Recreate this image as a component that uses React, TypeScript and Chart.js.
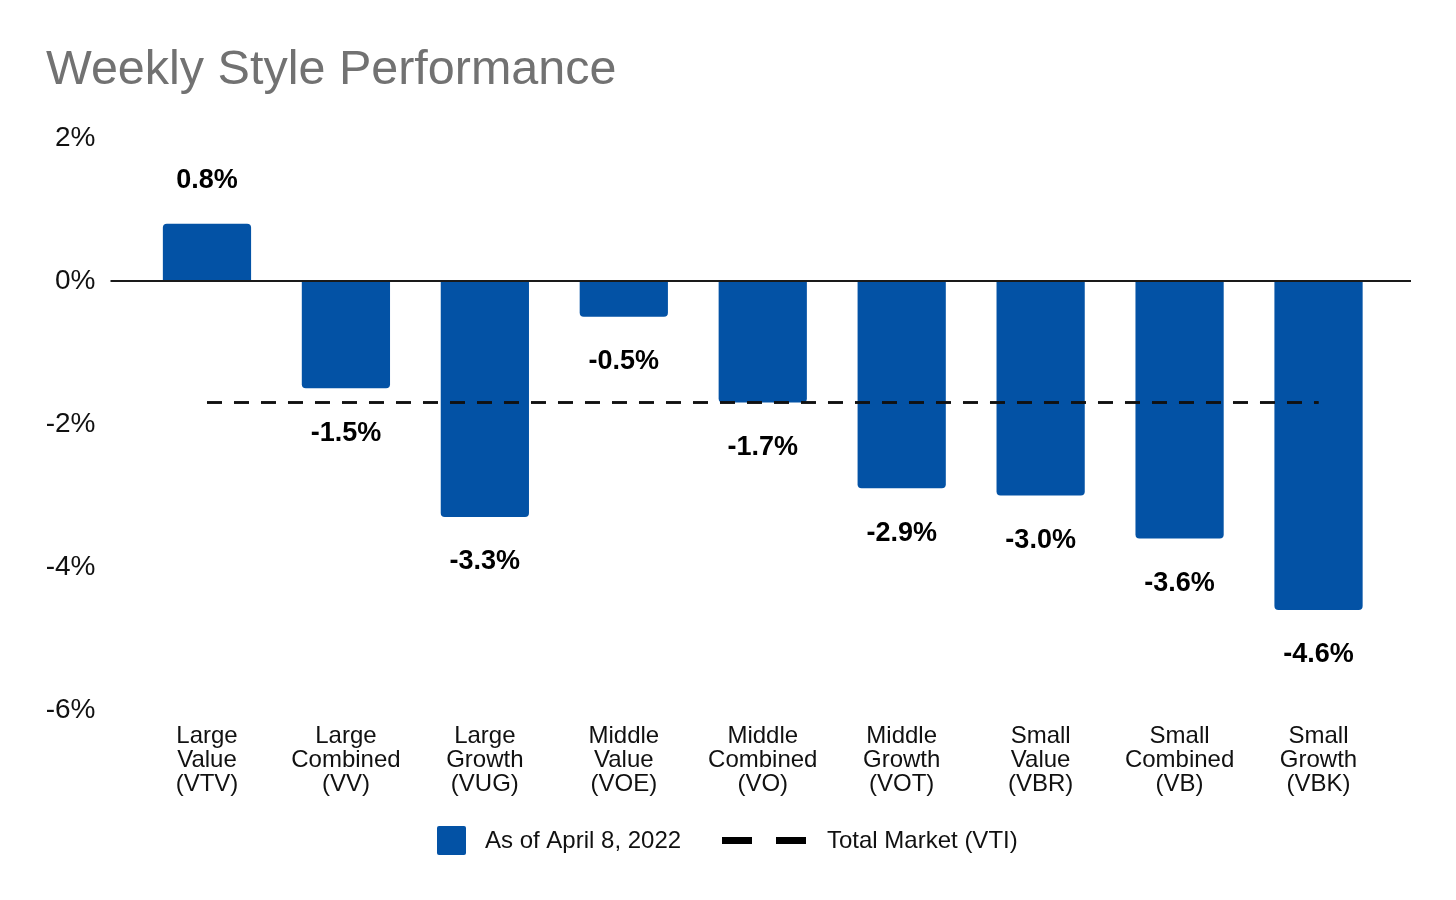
import React, { useEffect, useRef } from "react";
import { Chart, registerables } from "chart.js";

Chart.register(...registerables);

const TITLE = "Weekly Style Performance";
const CATEGORIES: string[][] = [
  ["Large", "Value", "(VTV)"],
  ["Large", "Combined", "(VV)"],
  ["Large", "Growth", "(VUG)"],
  ["Middle", "Value", "(VOE)"],
  ["Middle", "Combined", "(VO)"],
  ["Middle", "Growth", "(VOT)"],
  ["Small", "Value", "(VBR)"],
  ["Small", "Combined", "(VB)"],
  ["Small", "Growth", "(VBK)"],
];
const WEEKLY_RETURNS = [0.8, -1.5, -3.3, -0.5, -1.7, -2.9, -3.0, -3.6, -4.6];
const TOTAL_MARKET = [-1.7, -1.7, -1.7, -1.7, -1.7, -1.7, -1.7, -1.7, -1.7];
const BAR_LABEL = "As of April 8, 2022";
const LINE_LABEL = "Total Market (VTI)";
const Y_MIN = -6;
const Y_MAX = 2;
const Y_STEP = 2;

const FONT = "'Liberation Sans', Arial, Helvetica, sans-serif";
const BLUE = "#0352A5";

const overlayPlugin = {
  id: "overlay",
  afterDatasetsDraw(chart: any) {
    const { ctx, chartArea } = chart;
    const y = chart.scales.y;
    // zero line
    const y0 = y.getPixelForValue(0);
    ctx.save();
    ctx.strokeStyle = "#1a1a1a";
    ctx.lineWidth = 2;
    ctx.beginPath();
    ctx.moveTo(chartArea.left - 27, y0);
    ctx.lineTo(chartArea.right + 23, y0);
    ctx.stroke();

    // redraw dashed line on top of the zero line
    const lineMeta = chart.getDatasetMeta(1);
    if (lineMeta && lineMeta.dataset) {
      lineMeta.dataset.draw(ctx, chartArea);
    }

    // value labels
    const meta = chart.getDatasetMeta(0);
    ctx.fillStyle = "#000";
    ctx.font = `bold 27px ${FONT}`;
    ctx.textAlign = "center";
    ctx.textBaseline = "middle";
    meta.data.forEach((bar: any, i: number) => {
      const v = WEEKLY_RETURNS[i];
      const ly = v >= 0 ? bar.y - 43 : bar.y + 45;
      ctx.fillText(v.toFixed(1) + "%", bar.x, ly);
    });
    ctx.restore();
  },
  afterDraw(chart: any) {
    const { ctx } = chart;
    ctx.save();
    // title
    ctx.fillStyle = "#727272";
    ctx.font = `48.5px ${FONT}`;
    ctx.textAlign = "left";
    ctx.textBaseline = "alphabetic";
    ctx.fillText(TITLE, 46, 84);

    // legend
    const ly = 840;
    ctx.font = `24px ${FONT}`;
    ctx.textBaseline = "middle";
    ctx.fillStyle = BLUE;
    ctx.beginPath();
    (ctx as any).roundRect(437, ly - 14, 29, 29, 2);
    ctx.fill();
    ctx.fillStyle = "#111";
    ctx.fillText(BAR_LABEL, 485, ly + 1);
    ctx.fillStyle = "#000";
    ctx.fillRect(722, ly - 3, 30, 7);
    ctx.fillRect(776, ly - 3, 30, 7);
    ctx.fillStyle = "#111";
    ctx.fillText(LINE_LABEL, 827, ly + 1);
    ctx.restore();
  },
};

export default function App() {
  const ref = useRef<HTMLCanvasElement | null>(null);
  useEffect(() => {
    document.body.style.margin = "0";
    const canvas = ref.current;
    if (!canvas) return;
    const chart = new Chart(canvas, {
      type: "bar",
      data: {
        labels: CATEGORIES as any,
        datasets: [
          {
            type: "bar",
            label: BAR_LABEL,
            data: WEEKLY_RETURNS,
            backgroundColor: BLUE,
            borderRadius: 4,
            borderSkipped: "start",
            categoryPercentage: 1,
            barPercentage: 0.635,
            order: 1,
          } as any,
          {
            type: "line",
            label: LINE_LABEL,
            data: TOTAL_MARKET,
            borderColor: "#111",
            borderWidth: 2.5,
            borderDash: [15, 12],
            pointRadius: 0,
            fill: false,
            order: 0,
          } as any,
        ],
      },
      options: {
        responsive: false,
        animation: false,
        devicePixelRatio: 1,
        layout: { padding: { top: 138, right: 68, bottom: 100, left: 0 } },
        plugins: {
          legend: { display: false },
          title: { display: false },
          tooltip: { enabled: false },
        },
        scales: {
          x: {
            grid: { display: false },
            border: { display: false },
            ticks: {
              color: "#111",
              font: { family: FONT, size: 24, lineHeight: 1 },
              padding: 6,
              maxRotation: 0,
              autoSkip: false,
            },
            afterFit(scale: any) {
              scale.height = 90;
            },
          },
          y: {
            min: Y_MIN,
            max: Y_MAX,
            grid: { display: false },
            border: { display: false },
            ticks: {
              stepSize: Y_STEP,
              color: "#111",
              font: { family: FONT, size: 28 },
              padding: 34,
              callback: (v: any) => `${v}%`,
            },
            afterFit(scale: any) {
              scale.width = 137.5;
            },
          },
        },
      },
      plugins: [overlayPlugin],
    });
    return () => chart.destroy();
  }, []);
  return (
    <div style={{ position: "absolute", left: 0, top: 0, width: 1456, height: 900, background: "#fff" }}>
      <canvas ref={ref} width={1456} height={900} style={{ display: "block" }} />
    </div>
  );
}
